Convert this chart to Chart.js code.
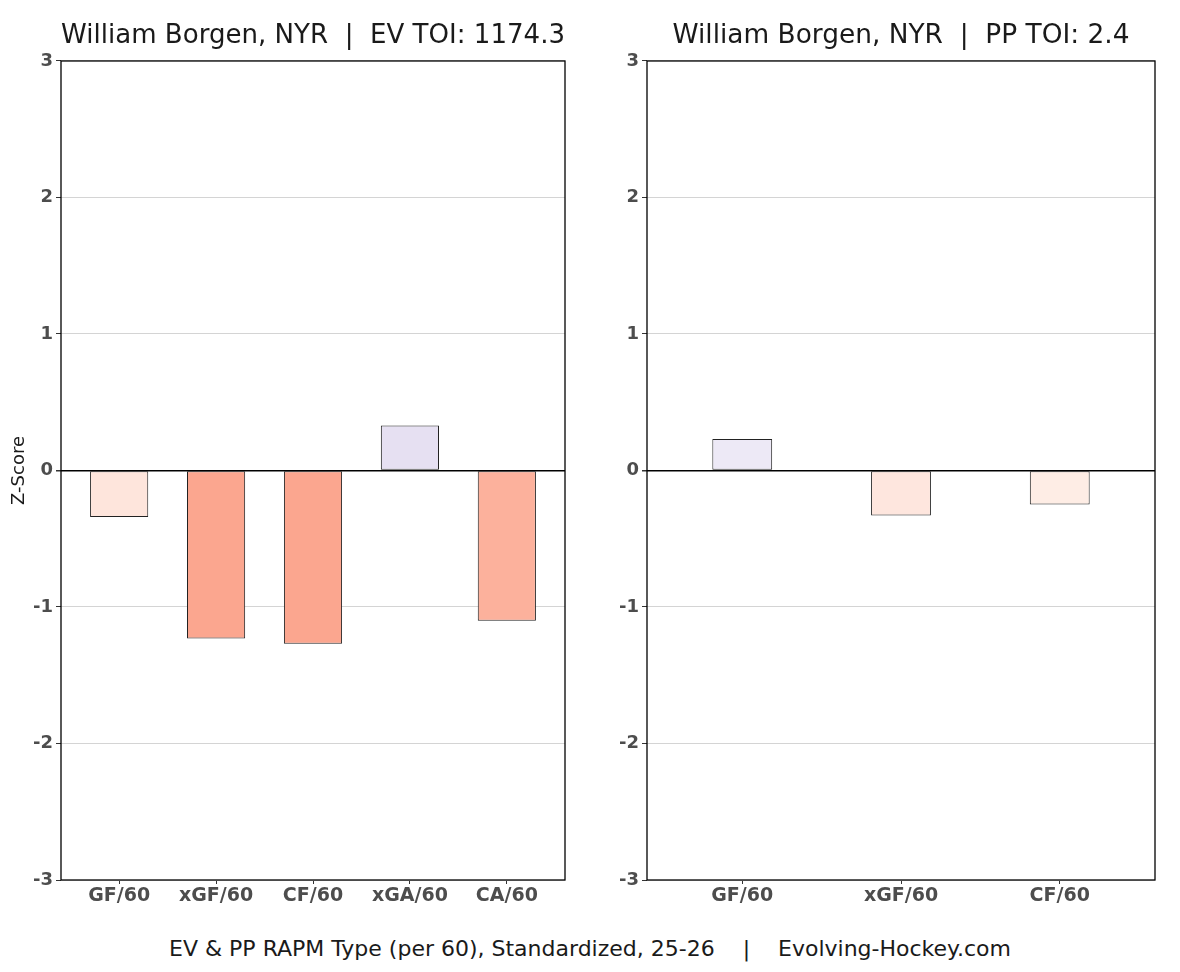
<!DOCTYPE html>
<html>
<head>
<meta charset="utf-8">
<script src="https://cdn.jsdelivr.net/npm/chart.js@4"></script>
<style>
  body { margin: 0; background: #fff; width: 1180px; height: 972px; position: relative; overflow: hidden; }
  .box { position: absolute; top: 0; height: 920px; }
  #leftBox { left: 0; width: 590px; }
  #rightBox { left: 586px; width: 594px; }
  #caption {
    position: absolute; left: 0; width: 1180px; top: 936px; text-align: center;
    font-family: "DejaVu Sans", sans-serif; font-size: 22px; color: #1a1a1a; white-space: pre;
  }
</style>
</head>
<body>
<div class="box" id="leftBox"><canvas id="evChart"></canvas></div>
<div class="box" id="rightBox"><canvas id="ppChart"></canvas></div>
<div id="caption">EV &amp; PP RAPM Type (per 60), Standardized, 25-26    |    Evolving-Hockey.com</div>
<script>
const evCategories = ['GF/60', 'xGF/60', 'CF/60', 'xGA/60', 'CA/60'];
const evValues = [-0.34, -1.23, -1.27, 0.33, -1.10];
const evColors = ['#fee5dc', '#fba68f', '#fba68f', '#e6e0f2', '#fcb19c'];

const ppCategories = ['GF/60', 'xGF/60', 'CF/60'];
const ppValues = [0.23, -0.33, -0.25];
const ppColors = ['#ede9f6', '#fee6de', '#feede5'];

const yTicks = [-3, -2, -1, 0, 1, 2, 3];

// draws the black box round the plot area
const frame = {
    id: 'frame',
    afterDraw(chart) {
        const a = chart.chartArea;
        const ctx = chart.ctx;
        ctx.save();
        ctx.strokeStyle = '#000';
        ctx.lineWidth = 1.3;
        ctx.strokeRect(a.left, a.top, a.right - a.left, a.bottom - a.top);
        ctx.restore();
    }
};

function makeChart(id, title, cats, vals, colors, barPct, showYTitle) {
    new Chart(document.getElementById(id), {
        type: 'bar',
        data: {
            datasets: [{
                data: vals.map((v, i) => ({ x: i + 1, y: v })),
                backgroundColor: colors,
                borderColor: '#222',
                borderWidth: 1,
                borderSkipped: false,
                categoryPercentage: 1,
                barPercentage: barPct
            }]
        },
        options: {
            responsive: true,
            maintainAspectRatio: false,
            animation: false,
            layout: { padding: { left: 0, right: 25, top: 0, bottom: 0 } },
            plugins: {
                legend: { display: false },
                tooltip: { enabled: false },
                title: {
                    display: true,
                    fullSize: false,
                    text: title,
                    color: '#1a1a1a',
                    font: { family: 'DejaVu Sans', size: 26.4, weight: 'normal' },
                    padding: { top: 20, bottom: 9.3 }
                }
            },
            scales: {
                x: {
                    type: 'linear',
                    offset: false,
                    min: 0.4,
                    max: cats.length + 0.6,
                    afterBuildTicks: s => { s.ticks = cats.map((c, i) => ({ value: i + 1 })); },
                    afterFit: s => { s.height = 40; },
                    grid: { drawOnChartArea: false, offset: false, tickLength: 4, tickColor: '#333' },
                    border: { display: false },
                    ticks: {
                        autoSkip: false, maxRotation: 0, padding: 1,
                        color: '#4d4d4d', font: { family: 'DejaVu Sans', size: 19, weight: 'bold' },
                        callback: v => cats[v - 1]
                    }
                },
                y: {
                    min: -3,
                    max: 3,
                    afterBuildTicks: s => { s.ticks = yTicks.map(v => ({ value: v })); },
                    afterFit: s => { s.width = 61; },
                    grid: {
                        color: ctx => ctx.tick && ctx.tick.value === 0 ? '#000' : '#d4d4d4',
                        lineWidth: ctx => ctx.tick && ctx.tick.value === 0 ? 1.5 : 1,
                        tickLength: 5,
                        tickColor: '#333'
                    },
                    border: { display: false },
                    ticks: { padding: 3, color: '#4d4d4d', font: { family: 'DejaVu Sans', size: 18, weight: 'bold' } },
                    title: {
                        display: showYTitle,
                        text: 'Z-Score',
                        color: '#1a1a1a',
                        font: { family: 'DejaVu Sans', size: 18 },
                        padding: { top: 9, bottom: 0 }
                    }
                }
            }
        },
        plugins: [frame]
    });
}

makeChart('evChart', 'William Borgen, NYR  |  EV TOI: 1174.3', evCategories, evValues, evColors, 0.6, true);
makeChart('ppChart', 'William Borgen, NYR  |  PP TOI: 2.4', ppCategories, ppValues, ppColors, 0.377, false);
</script>
</body>
</html>
